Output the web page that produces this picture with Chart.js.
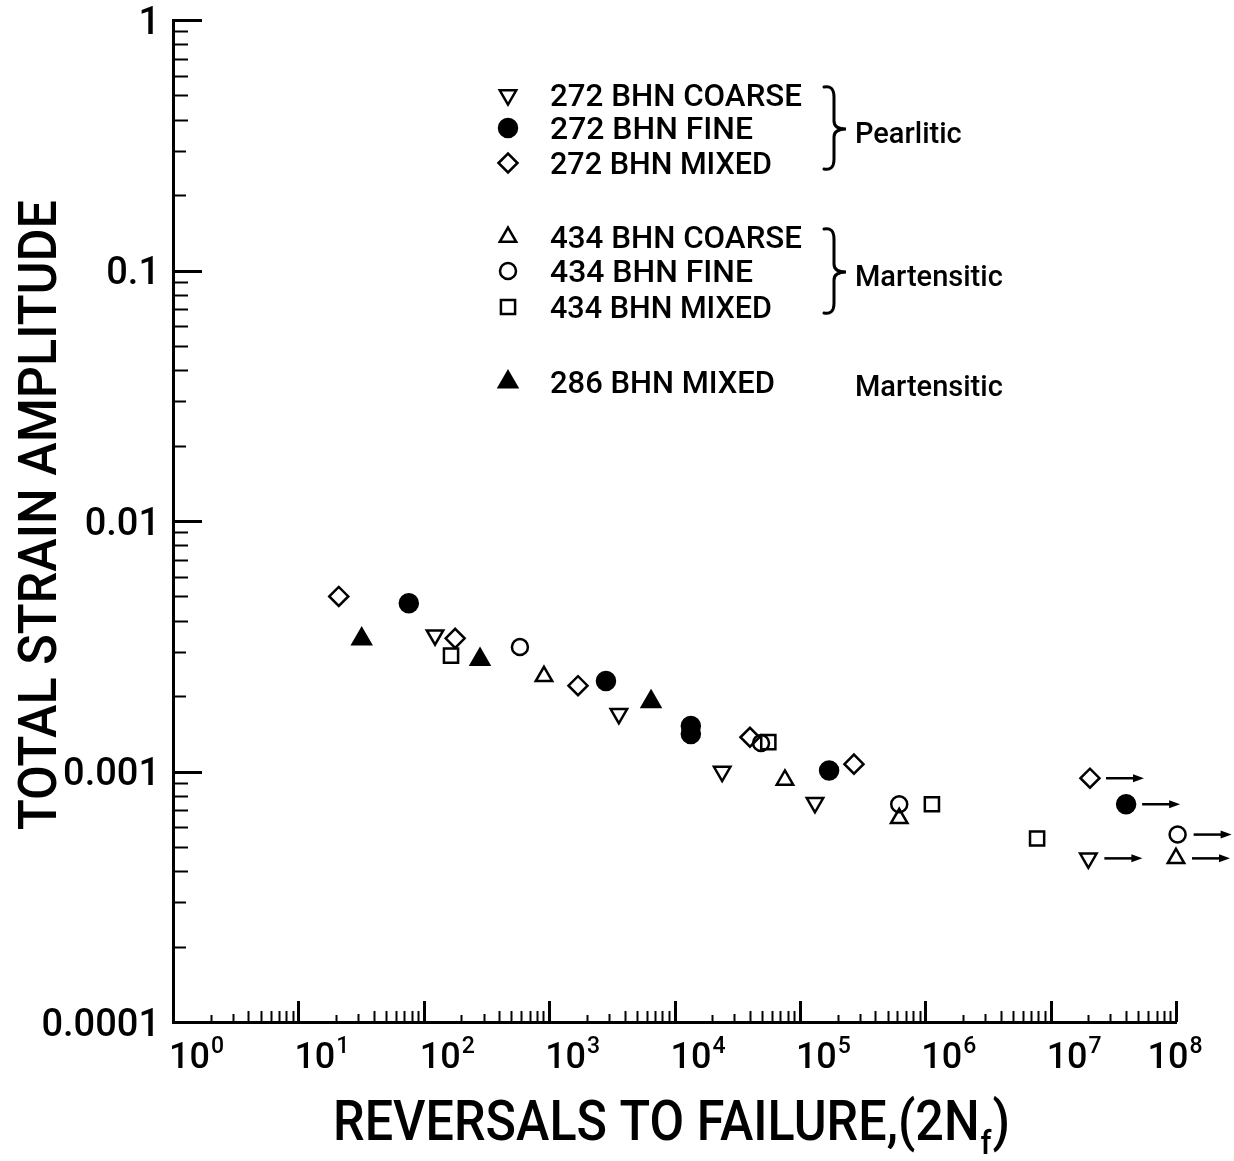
<!DOCTYPE html>
<html>
<head>
<meta charset="utf-8">
<script src="https://cdn.jsdelivr.net/npm/chart.js@4.4.1/dist/chart.umd.min.js"></script>
<style>
html,body{margin:0;padding:0;background:#fff;}
#wrap{width:1234px;height:1161px;position:relative;}
canvas{display:block;}
</style>
</head>
<body>
<div id="wrap"><canvas id="c" width="1234" height="1161"></canvas></div>
<script>
// ---------------- DATA ----------------
const seriesLabels = ['272 BHN COARSE','272 BHN FINE','272 BHN MIXED','434 BHN COARSE','434 BHN FINE','434 BHN MIXED','286 BHN MIXED'];
const groupLabels = ['Pearlitic','Martensitic','Martensitic'];
const xTitle = 'REVERSALS TO FAILURE,(2N';
const xTitleSub = 'f';
const xTitleEnd = ')';
const yTitle = 'TOTAL STRAIN AMPLITUDE';
const xTickExponents = ['0','1','2','3','4','5','6','7','8'];
const yTickValues = [1, 0.1, 0.01, 0.001, 0.0001];
const yTickLabels = ['1','0.1','0.01','0.001','0.0001'];

// 272 BHN coarse (pearlitic)
const coarse272X = [123, 3600, 24000, 132000, 2.0e7];
const coarse272Y = [0.0035, 0.0017, 0.00100, 0.00075, 0.00045];
const coarse272Runout = [false, false, false, false, true];
// 272 BHN fine
const fine272X = [76, 2840, 13500, 13500, 171000, 4.0e7];
const fine272Y = [0.0047, 0.0023, 0.00152, 0.00141, 0.00101, 0.00074];
const fine272Runout = [false, false, false, false, false, true];
// 272 BHN mixed
const mixed272X = [21, 178, 1700, 40000, 270000, 2.06e7];
const mixed272Y = [0.0050, 0.0034, 0.0022, 0.00137, 0.00107, 0.00094];
const mixed272Runout = [false, false, false, false, false, true];
// 434 BHN coarse (martensitic)
const coarse434X = [910, 76000, 620000, 1.0e8];
const coarse434Y = [0.0024, 0.000925, 0.00065, 0.00045];
const coarse434Runout = [false, false, false, true];
// 434 BHN fine
const fine434X = [585, 49000, 620000, 1.03e8];
const fine434Y = [0.00314, 0.00130, 0.00074, 0.00056];
const fine434Runout = [false, false, false, true];
// 434 BHN mixed
const mixed434X = [165, 56000, 1.13e6, 7.8e6];
const mixed434Y = [0.0029, 0.00131, 0.00074, 0.00054];
const mixed434Runout = [false, false, false, false];
// 286 BHN mixed (martensitic)
const mixed286X = [32, 281, 6500];
const mixed286Y = [0.00338, 0.0028, 0.0019];
const mixed286Runout = [false, false, false];

// ---------------- STYLE ----------------
const seriesX = [coarse272X, fine272X, mixed272X, coarse434X, fine434X, mixed434X, mixed286X];
const seriesY = [coarse272Y, fine272Y, mixed272Y, coarse434Y, fine434Y, mixed434Y, mixed286Y];
const seriesRunout = [coarse272Runout, fine272Runout, mixed272Runout, coarse434Runout, fine434Runout, mixed434Runout, mixed286Runout];
const markerStyles = [
  {pointStyle:'triangle', rotation:180, filled:false, radius:9.5},
  {pointStyle:'circle',   rotation:0,   filled:true,  radius:9},
  {pointStyle:'rectRot',  rotation:0,   filled:false, radius:9.5},
  {pointStyle:'triangle', rotation:0,   filled:false, radius:9.5},
  {pointStyle:'circle',   rotation:0,   filled:false, radius:8},
  {pointStyle:'rect',     rotation:0,   filled:false, radius:10},
  {pointStyle:'triangle', rotation:0,   filled:true,  radius:10.5}
];
const legendRowY = [95, 128, 163, 237, 271, 307, 382];
const legendLabelWidths = [252, 203, 222, 252, 203, 222, 225];
const groupRows = [[0,2],[3,5],[6,6]];
const INK = '#000';
const FONT = 'Roboto, "Liberation Sans", "DejaVu Sans", sans-serif';
const W = '500 ';

const datasets = seriesLabels.map((label, i) => {
  const st = markerStyles[i];
  return {
    label,
    data: seriesX[i].map((x, j) => ({x, y: seriesY[i][j]})),
    pointStyle: st.pointStyle,
    rotation: st.rotation,
    radius: st.radius,
    pointRadius: st.radius,
    borderWidth: 2.5,
    borderColor: INK,
    backgroundColor: st.filled ? INK : 'rgba(0,0,0,0)',
    showLine: false,
    clip: false
  };
});

function drawMarker(ctx, st, x, y) {
  ctx.save();
  ctx.fillStyle = st.filled ? INK : 'rgba(0,0,0,0)';
  ctx.strokeStyle = INK;
  ctx.lineWidth = 2.5;
  Chart.helpers.drawPoint(ctx, {pointStyle: st.pointStyle, rotation: st.rotation, radius: st.radius, borderWidth: 2.5}, x, y);
  ctx.restore();
}

// draw text squeezed/stretched horizontally to a target width
function fitText(ctx, text, x, y, width, font) {
  ctx.font = font;
  const w = ctx.measureText(text).width;
  ctx.save();
  ctx.translate(x, y);
  ctx.scale(width / w, 1);
  ctx.textAlign = 'left';
  ctx.fillText(text, 0, 0);
  ctx.restore();
}

const inwardTicks = {
  id: 'inwardTicks',
  afterDatasetsDraw(chart) {
    const {ctx, chartArea: a, scales: {x, y}} = chart;
    ctx.save();
    ctx.strokeStyle = INK;
    for (let e = 0; e <= 8; e++) {
      for (let m = 1; m <= 9; m++) {
        if (e === 8 && m > 1) break;
        const px = Math.round(x.getPixelForValue(m * Math.pow(10, e))) + 0.5;
        const len = m === 1 ? 21 : (m === 2 ? 7 : (m === 3 ? 8 : 11));
        ctx.lineWidth = m === 1 ? 3 : 2;
        ctx.beginPath(); ctx.moveTo(px, a.bottom); ctx.lineTo(px, a.bottom - len); ctx.stroke();
      }
    }
    for (let e = -4; e <= 0; e++) {
      for (let m = 1; m <= 9; m++) {
        if (e === 0 && m > 1) break;
        const py = Math.round(y.getPixelForValue(m * Math.pow(10, e))) + 0.5;
        const len = m === 1 ? 29 : (m <= 3 ? 13 : 15);
        ctx.lineWidth = m === 1 ? 3 : 2;
        ctx.beginPath(); ctx.moveTo(a.left, py); ctx.lineTo(a.left + len, py); ctx.stroke();
      }
    }
    ctx.restore();
  }
};

const labelsPlugin = {
  id: 'labelsPlugin',
  afterDraw(chart) {
    const {ctx, chartArea: a, scales: {x, y}} = chart;
    ctx.save();
    ctx.fillStyle = INK;
    // y tick labels
    ctx.font = W + '38px ' + FONT;
    ctx.textAlign = 'right';
    ctx.textBaseline = 'alphabetic';
    yTickValues.forEach((v, i) => {
      const py = y.getPixelForValue(v);
      ctx.fillText(yTickLabels[i], a.left - 13, py + 13.5);
    });
    // x tick labels 10^n
    xTickExponents.forEach((ex, i) => {
      const px = x.getPixelForValue(Math.pow(10, +ex));
      ctx.font = W + '36px ' + FONT;
      const wBase = ctx.measureText('10').width;
      ctx.font = W + '23px ' + FONT;
      const wExp = ctx.measureText(ex).width;
      const total = wBase + 1 + wExp;
      const left = (i === xTickExponents.length - 1) ? px - total / 2 - 1 : px - 4;
      ctx.textAlign = 'left';
      ctx.font = W + '36px ' + FONT;
      ctx.fillText('10', left, 1068);
      ctx.font = W + '23px ' + FONT;
      ctx.fillText(ex, left + wBase + 1, 1053);
    });
    // x title with subscript
    const big = W + '55px ' + FONT, small = W + '34px ' + FONT;
    ctx.font = big;
    const w1 = ctx.measureText(xTitle).width;
    const w3 = ctx.measureText(xTitleEnd).width;
    ctx.font = small;
    const w2 = ctx.measureText(xTitleSub).width;
    const s = 677 / (w1 + w2 + w3 + 2);
    ctx.save();
    ctx.translate(333, 1140);
    ctx.scale(s, 1);
    ctx.textAlign = 'left';
    ctx.font = big; ctx.fillText(xTitle, 0, 0);
    ctx.font = small; ctx.fillText(xTitleSub, w1 + 1, 14);
    ctx.font = big; ctx.fillText(xTitleEnd, w1 + w2 + 2, 0);
    ctx.restore();
    // y title (rotated)
    ctx.save();
    ctx.translate(56, 830);
    ctx.rotate(-Math.PI / 2);
    fitText(ctx, yTitle, 0, 0, 630, W + '53px ' + FONT);
    ctx.restore();

    // legend
    ctx.textBaseline = 'alphabetic';
    seriesLabels.forEach((lab, i) => {
      drawMarker(ctx, markerStyles[i], 508, legendRowY[i]);
      ctx.fillStyle = INK;
      fitText(ctx, lab, 550, legendRowY[i] + 11, legendLabelWidths[i], W + '31px ' + FONT);
    });
    // braces + group labels
    ctx.strokeStyle = INK; ctx.lineWidth = 3; ctx.lineCap = 'round';
    groupRows.forEach((g, gi) => {
      const y0 = legendRowY[g[0]], y1 = legendRowY[g[1]];
      const ym = (y0 + y1) / 2;
      if (g[0] !== g[1]) {
        const top = y0 - 8, bot = y1 + 6, bx = 824, vx = 834, tip = 846;
        ctx.beginPath();
        ctx.moveTo(bx, top);
        ctx.quadraticCurveTo(vx, top - 2, vx, top + 10);
        ctx.lineTo(vx, ym - 8);
        ctx.quadraticCurveTo(vx, ym, tip, ym);
        ctx.quadraticCurveTo(vx, ym, vx, ym + 8);
        ctx.lineTo(vx, bot - 10);
        ctx.quadraticCurveTo(vx, bot + 2, bx, bot);
        ctx.stroke();
      }
      ctx.font = W + '29px ' + FONT;
      ctx.fillStyle = INK;
      ctx.textAlign = 'left';
      ctx.fillText(groupLabels[gi], 855, ym + 14);
    });

    // run-out arrows
    ctx.lineWidth = 2.5; ctx.lineCap = 'butt';
    chart.data.datasets.forEach((ds, di) => {
      const meta = chart.getDatasetMeta(di);
      seriesRunout[di].forEach((r, j) => {
        if (!r) return;
        const pt = meta.data[j];
        const x0 = pt.x + 16, x1 = pt.x + 54, yy = pt.y;
        ctx.beginPath(); ctx.moveTo(x0, yy); ctx.lineTo(x1 - 8, yy); ctx.stroke();
        ctx.beginPath(); ctx.moveTo(x1, yy); ctx.lineTo(x1 - 11, yy - 4); ctx.lineTo(x1 - 11, yy + 4); ctx.closePath(); ctx.fill();
      });
    });
    ctx.restore();
  }
};

function build() {
  new Chart(document.getElementById('c'), {
    type: 'scatter',
    data: {datasets},
    options: {
      responsive: false,
      animation: false,
      events: [],
      layout: {autoPadding: false, padding: {left: 0, top: 20, right: 58, bottom: 0}},
      plugins: {legend: {display: false}, tooltip: {enabled: false}, title: {display: false}},
      scales: {
        x: {
          type: 'logarithmic', min: 1, max: 1e8, position: 'bottom',
          grid: {display: false},
          ticks: {display: false},
          border: {display: true, color: INK, width: 3},
          afterFit: (sc) => { sc.height = 139; }
        },
        y: {
          type: 'logarithmic', min: 0.0001, max: 1, position: 'left',
          grid: {display: false},
          ticks: {display: false},
          border: {display: true, color: INK, width: 3},
          afterFit: (sc) => { sc.width = 173; }
        }
      }
    },
    plugins: [inwardTicks, labelsPlugin]
  });
}
if (document.fonts && document.fonts.load) {
  Promise.all([document.fonts.load('500 38px Roboto'), document.fonts.load('38px Roboto')]).then(build, build);
} else { build(); }
</script>
</body>
</html>
